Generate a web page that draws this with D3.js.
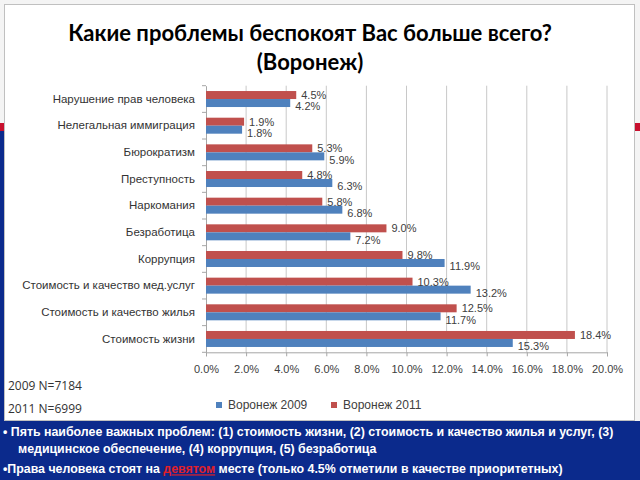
<!DOCTYPE html>
<html><head><meta charset="utf-8">
<script src="https://cdn.jsdelivr.net/npm/d3@7"></script>
<style>html,body{margin:0;padding:0;background:#fff;}svg{display:block;}</style>
</head><body>
<svg id="c" width="640" height="480"></svg>
<script>
const categories = ["Нарушение прав человека","Нелегальная иммиграция","Бюрократизм","Преступность","Наркомания","Безработица","Коррупция","Стоимость и качество мед.услуг","Стоимость и качество жилья","Стоимость жизни"];
const values2009 = [4.2,1.8,5.9,6.3,6.8,7.2,11.9,13.2,11.7,15.3];
const values2011 = [4.5,1.9,5.3,4.8,5.8,9.0,9.8,10.3,12.5,18.4];
const seriesNames = ["Воронеж 2009","Воронеж 2011"];
const xTicks = [0,2,4,6,8,10,12,14,16,18,20];
const titleLines = ["Какие проблемы беспокоят Вас больше всего?","(Воронеж)"];
const sampleNotes = ["2009 N=7184","2011 N=6999"];

const svg = d3.select("#c");
const navy = "#0b2a8c", red = "#c0504d", blue = "#4f81bd", slideRed = "#c8102e";

// slide background
svg.append("rect").attr("x",0).attr("y",0).attr("width",640).attr("height",480).attr("fill","#f4f4f4");
svg.append("rect").attr("x",0).attr("y",131).attr("width",640).attr("height",349).attr("fill",navy);
svg.append("rect").attr("x",635).attr("y",131).attr("width",5).attr("height",290).attr("fill","#f4f4f4");
svg.append("rect").attr("x",0).attr("y",123).attr("width",640).attr("height",8).attr("fill",slideRed);
// chart panel
svg.append("rect").attr("x",4.5).attr("y",4.5).attr("width",630).attr("height",416).attr("fill","#fff").attr("stroke","#c0c0c0").attr("stroke-width",1);

// title
const title = svg.append("g");
titleLines.forEach((t,i)=>{
  title.append("text").attr("x",310).attr("y",[41,70][i]).attr("text-anchor","middle")
    .attr("font-family","Lato, 'Open Sans', sans-serif").attr("font-weight","bold")
    .attr("font-size",23).attr("fill","#000").text(t);
});
{
  const n = title.select("text").node();
  const w = n.getComputedTextLength();
  const fs = 23*484/w;
  title.selectAll("text").attr("font-size",fs);
}

const x = d3.scaleLinear().domain([0,20]).range([206,607]);
const y = d3.scaleBand().domain(categories).range([85.7,352.3]).paddingInner(0.4).paddingOuter(0.2);
const sub = d3.scaleBand().domain(["2011","2009"]).range([0,y.bandwidth()]);

// gridlines
svg.append("g").selectAll("line").data(xTicks.slice(1)).join("line")
  .attr("x1",d=>x(d)).attr("x2",d=>x(d)).attr("y1",85.7).attr("y2",352.3)
  .attr("stroke","#c8c8c8").attr("stroke-width",1);

// x axis
const xa = svg.append("g").attr("transform","translate(0,352.3)")
  .call(d3.axisBottom(x).tickValues(xTicks).tickSize(4).tickFormat(d=>d.toFixed(1)+"%").tickPadding(9));
xa.select(".domain").attr("stroke","#a6a6a6");
xa.selectAll(".tick line").attr("stroke","#a6a6a6");
xa.selectAll("text").attr("font-family","'Liberation Sans', Arial, sans-serif").attr("font-size",11).attr("fill","#404040");

// y axis
const ya = svg.append("g").attr("transform","translate(206,0)")
  .call(d3.axisLeft(y).tickSize(0).tickPadding(11));
ya.select(".domain").attr("stroke","#a6a6a6");
ya.selectAll("text").attr("font-family","'Liberation Sans', Arial, sans-serif").attr("font-size",11.5).attr("fill","#333");
const bounds = categories.map(c=>y(c)-y.step()*y.paddingInner()/2).concat([352.3]);
svg.append("g").selectAll("line").data(bounds).join("line")
  .attr("x1",202).attr("x2",206).attr("y1",d=>d).attr("y2",d=>d).attr("stroke","#a6a6a6");

// bars
const rows = categories.map((c,i)=>({c, v2009:values2009[i], v2011:values2011[i]}));
const g = svg.append("g");
const series = [{key:"2011",field:"v2011",color:red,off:0},{key:"2009",field:"v2009",color:blue,off:3.5}];
series.forEach(s=>{
  g.selectAll(".b"+s.key).data(rows).join("rect")
    .attr("x",x(0)).attr("y",d=>y(d.c)+sub(s.key))
    .attr("width",d=>x(d[s.field])-x(0)).attr("height",sub.bandwidth())
    .attr("fill",s.color);
});
series.forEach(s=>{
  g.selectAll(".l"+s.key).data(rows).join("text")
    .attr("x",d=>x(d[s.field])+5).attr("y",d=>y(d.c)+sub(s.key)+sub.bandwidth()/2+s.off)
    .attr("dy","0.35em")
    .attr("font-family","'Liberation Sans', Arial, sans-serif").attr("font-size",11).attr("fill","#404040")
    .text(d=>d[s.field].toFixed(1)+"%");
});

// legend
const leg = svg.append("g");
[[219,blue,seriesNames[0]],[334,red,seriesNames[1]]].forEach(([lx,col,txt])=>{
  leg.append("rect").attr("x",lx-3).attr("y",402).attr("width",6).attr("height",6).attr("fill",col);
  leg.append("text").attr("x",lx+9).attr("y",405).attr("dy","0.35em")
    .attr("font-family","'Liberation Sans', Arial, sans-serif").attr("font-size",12).attr("fill","#404040").text(txt);
});

// sample notes
sampleNotes.forEach((t,i)=>{
  svg.append("text").attr("x",8).attr("y",[386,409][i]).attr("dy","0.35em")
    .attr("font-family","'Open Sans', sans-serif").attr("font-size",12).attr("fill","#333").text(t);
});

// bottom notes
const ff = "'Liberation Sans', Arial, sans-serif";
function fitLine(sel, target){
  const w = sel.node().getComputedTextLength();
  sel.attr("font-size", 13*target/w);
}
const l1 = svg.append("text").attr("x",3).attr("y",432).attr("dy","0.35em").attr("font-family",ff).attr("font-weight","bold").attr("font-size",13).attr("fill","#fff")
  .text("• Пять наиболее важных проблем: (1) стоимость жизни, (2) стоимость и качество жилья и услуг, (3)");
fitLine(l1, 611);
const fsz = +l1.attr("font-size");
svg.append("text").attr("x",18).attr("y",449).attr("dy","0.35em").attr("font-family",ff).attr("font-weight","bold").attr("font-size",fsz).attr("fill","#fff")
  .text("медицинское обеспечение, (4) коррупция, (5) безработица");
const l3 = svg.append("text").attr("x",3).attr("y",469).attr("dy","0.35em").attr("font-family",ff).attr("font-weight","bold").attr("font-size",fsz).attr("fill","#fff");
l3.append("tspan").text("•Права человека стоят на ");
l3.append("tspan").attr("fill","#e0202a").attr("text-decoration","underline").text("девятом");
l3.append("tspan").text(" месте (только 4.5% отметили в качестве приоритетных)");
</script>
</body></html>
